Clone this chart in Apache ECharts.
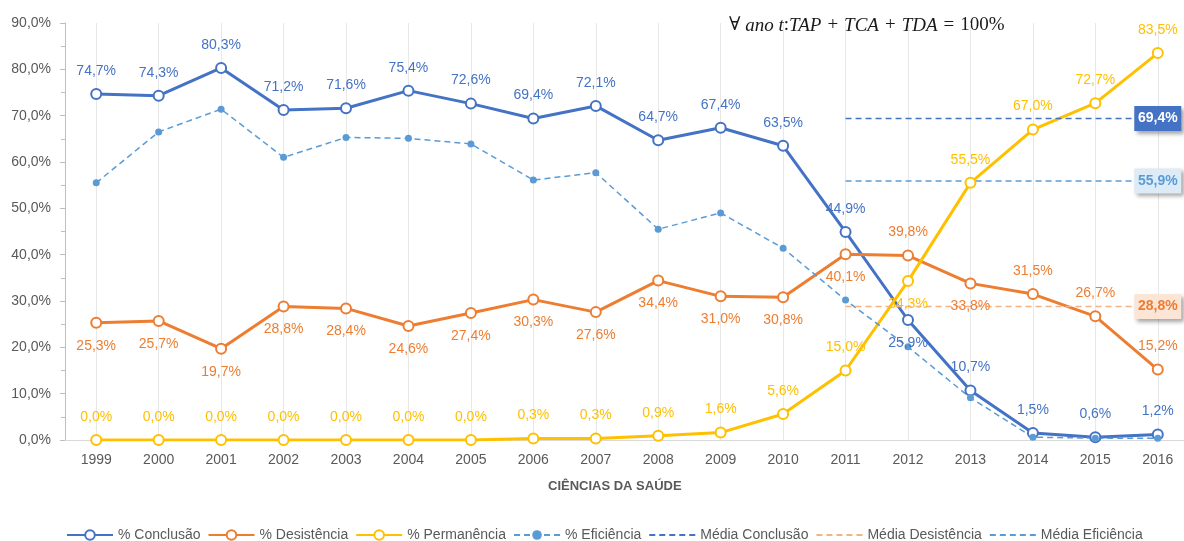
<!DOCTYPE html>
<html>
<head>
<meta charset="utf-8">
<script src="https://cdn.jsdelivr.net/npm/echarts@6/dist/echarts.min.js"></script>
<style>
  html, body { margin: 0; padding: 0; background: #ffffff; overflow: hidden; }
  #chart { width: 1192px; height: 541px; }
</style>
</head>
<body>
<div id="chart"></div>
<script>
// Anos lectivos
const years = ['1999', '2000', '2001', '2002', '2003', '2004', '2005', '2006', '2007',
               '2008', '2009', '2010', '2011', '2012', '2013', '2014', '2015', '2016'];

// Taxas por ano (%)
const conclusao   = [74.7, 74.3, 80.3, 71.2, 71.6, 75.4, 72.6, 69.4, 72.1, 64.7, 67.4, 63.5, 44.9, 25.9, 10.7, 1.5, 0.6, 1.2];
const desistencia = [25.3, 25.7, 19.7, 28.8, 28.4, 24.6, 27.4, 30.3, 27.6, 34.4, 31.0, 30.8, 40.1, 39.8, 33.8, 31.5, 26.7, 15.2];
const permanencia = [0.0, 0.0, 0.0, 0.0, 0.0, 0.0, 0.0, 0.3, 0.3, 0.9, 1.6, 5.6, 15.0, 34.3, 55.5, 67.0, 72.7, 83.5];
const eficiencia  = [55.5, 66.5, 71.4, 61.0, 65.3, 65.1, 63.9, 56.1, 57.7, 45.5, 49.0, 41.4, 30.2, 20.1, 9.1, 0.6, 0.4, 0.4];

// Médias e ano a partir do qual são traçadas
const mediaConclusao   = 69.4;
const mediaDesistencia = 28.8;
const mediaEficiencia  = 55.9;
const mediaInicio = '2011';

// Escala vertical
const yMin = 0, yMax = 90, yStep = 10;

// Anos em que o rótulo muda de lado
const conclusaoAbaixo   = ['2012'];
const desistenciaAcima  = ['2012', '2014', '2015', '2016'];
const permanenciaAbaixo = ['2012'];

const C_BLUE = '#4472c4', C_ORANGE = '#ed7d31', C_YELLOW = '#ffc000', C_LIGHT = '#5b9bd5';
const TXT = '#595959';
const FONT = "'Liberation Sans', Arial, sans-serif";
const SERIF = "'Liberation Serif', 'DejaVu Serif', serif";

const fmt = v => v.toFixed(1).replace('.', ',') + '%';

function labelled(values, defaultPos, flipYears) {
  const flip = defaultPos === 'top' ? 'bottom' : 'top';
  return values.map((v, i) => ({
    value: v,
    label: { position: flipYears.includes(years[i]) ? flip : defaultPos }
  }));
}

function mainSeries(name, values, color, defaultPos, flipYears) {
  return {
    name, type: 'line',
    data: labelled(values, defaultPos, flipYears),
    symbol: 'emptyCircle', symbolSize: 10,
    lineStyle: { color, width: 3 },
    itemStyle: { color, borderColor: color, borderWidth: 2.5 },
    label: {
      show: true, color, fontSize: 14, distance: 10,
      formatter: p => fmt(p.value)
    },
    emphasis: { disabled: true }
  };
}

// Linha da média, desde mediaInicio até ao último ano, com caixa de valor no fim
function mediaSeries(name, value, lineColor, boxColor, textColor) {
  const start = years.indexOf(mediaInicio);
  const last = years[years.length - 1];
  return {
    name, type: 'line',
    data: years.map((y, i) => (i < start ? null : value)),
    symbol: 'none',
    lineStyle: { color: lineColor, width: 1.5, type: [6, 4] },
    itemStyle: { color: lineColor },
    label: { show: false },
    emphasis: { disabled: true },
    markPoint: {
      silent: true,
      symbol: 'rect', symbolSize: [47, 25],
      itemStyle: {
        color: boxColor,
        shadowColor: 'rgba(0,0,0,0.35)', shadowBlur: 4, shadowOffsetX: 3, shadowOffsetY: 3
      },
      label: {
        show: true, position: 'inside', formatter: fmt(value),
        color: textColor, fontWeight: 'bold', fontSize: 14, fontFamily: FONT
      },
      data: [{ coord: [last, value] }]
    }
  };
}

// Entradas da legenda; as médias mostram só a linha tracejada
const legendNames = ['% Conclusão', '% Desistência', '% Permanência', '% Eficiência',
                     'Média Conclusão', 'Média Desistência', 'Média Eficiência'];

const chart = echarts.init(document.getElementById('chart'));

chart.setOption({
  animation: false,
  backgroundColor: '#ffffff',
  textStyle: { fontFamily: FONT },
  grid: { left: 65, top: 23, width: 1124, height: 417, containLabel: false },
  xAxis: {
    type: 'category', data: years, boundaryGap: true,
    axisLine: { lineStyle: { color: '#d9d9d9', width: 1 } },
    axisTick: { show: false },
    axisLabel: { color: TXT, fontSize: 14, margin: 13 },
    splitLine: { show: true, alignWithLabel: true, lineStyle: { color: '#e8e8e8', width: 1 } }
  },
  yAxis: {
    type: 'value', min: yMin, max: yMax, interval: yStep,
    axisLine: { show: true, lineStyle: { color: '#bfbfbf' } },
    axisTick: { show: true, length: 5, lineStyle: { color: '#bfbfbf' } },
    minorTick: { show: true, splitNumber: 2, length: 4, lineStyle: { color: '#bfbfbf' } },
    splitLine: { show: false },
    axisLabel: { color: TXT, fontSize: 14, margin: 14, formatter: v => fmt(v) }
  },
  legend: {
    left: 61, top: 523,
    itemWidth: 46, itemHeight: 12, itemGap: 7,
    textStyle: { color: TXT, fontSize: 14 },
    data: legendNames.map(n => n.startsWith('Média')
      ? { name: n, itemStyle: { opacity: 0 } }
      : { name: n })
  },
  graphic: [
    {
      type: 'text', left: 548, top: 480,
      style: { text: 'CIÊNCIAS DA SAÚDE', fill: TXT, font: "bold 13px " + FONT }
    },
    {
      type: 'text', left: 729, top: 16,
      style: {
        text: '{n|∀ }{i|ano t}{n|:}{i|TAP}{o|+}{i|TCA}{o|+}{i|TDA}{o|=}{n|100%}',
        rich: {
          n: { fontFamily: SERIF, fontSize: 19, fill: '#1a1a1a', fontStyle: 'normal' },
          o: { fontFamily: SERIF, fontSize: 19, fill: '#1a1a1a', fontStyle: 'normal', padding: [0, 6] },
          i: { fontFamily: SERIF, fontSize: 19, fill: '#1a1a1a', fontStyle: 'italic' }
        }
      }
    }
  ],
  series: [
    mainSeries('% Conclusão', conclusao, C_BLUE, 'top', conclusaoAbaixo),
    mainSeries('% Desistência', desistencia, C_ORANGE, 'bottom', desistenciaAcima),
    mainSeries('% Permanência', permanencia, C_YELLOW, 'top', permanenciaAbaixo),
    {
      name: '% Eficiência', type: 'line', data: eficiencia,
      symbol: 'circle', symbolSize: 7,
      lineStyle: { color: C_LIGHT, width: 1.5, type: [6, 4] },
      itemStyle: { color: C_LIGHT },
      label: { show: false },
      emphasis: { disabled: true }
    },
    mediaSeries('Média Conclusão', mediaConclusao, C_BLUE, C_BLUE, '#ffffff'),
    mediaSeries('Média Desistência', mediaDesistencia, '#f4b183', '#fbe5d6', C_ORANGE),
    mediaSeries('Média Eficiência', mediaEficiencia, C_LIGHT, '#ddebf7', C_LIGHT)
  ]
});
</script>
</body>
</html>
